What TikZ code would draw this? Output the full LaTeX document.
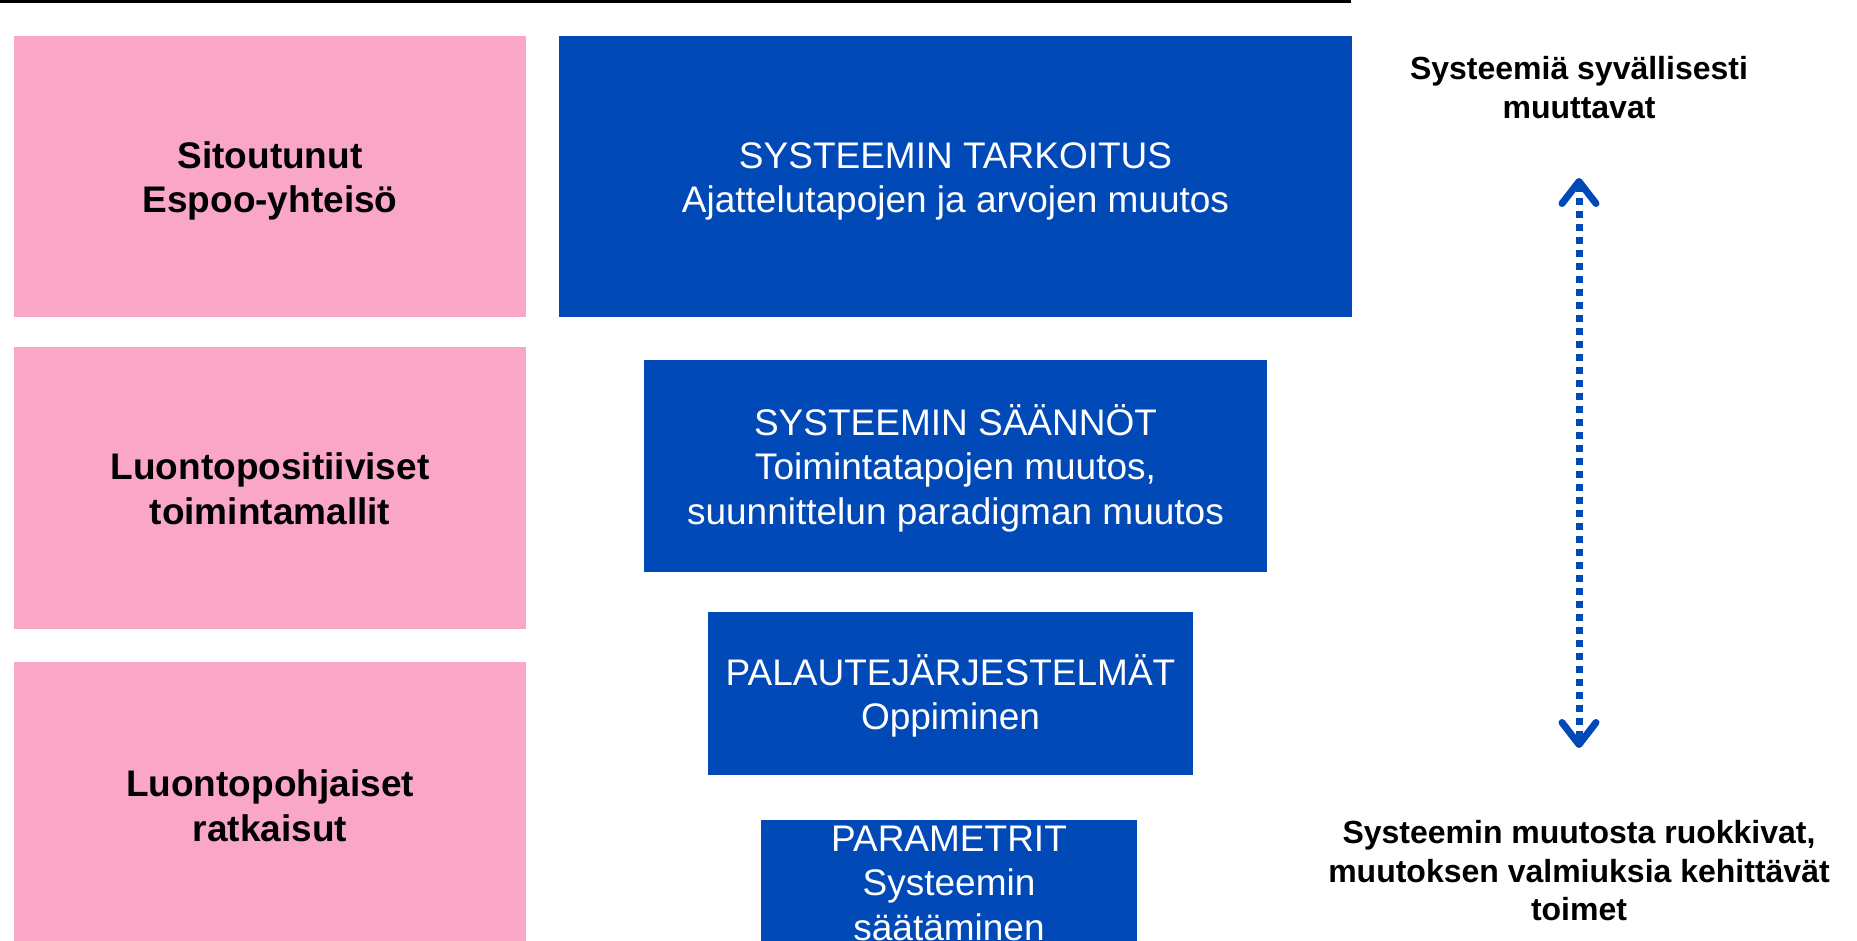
\documentclass[tikz,border=0pt]{standalone}
\usepackage{fontspec}
\setmainfont{Liberation Sans}
\usetikzlibrary{arrows.meta}
\definecolor{espblue}{RGB}{0,73,183}
\definecolor{esppink}{RGB}{250,166,199}
\newcommand{\ls}{\rule{0pt}{41pt}}

\begin{document}
\begin{tikzpicture}[x=1pt,y=-1pt,
   pinkbox/.style={fill=esppink,inner xsep=0pt,inner ysep=-20pt,align=center,
     font=\fontsize{37}{44.5}\selectfont\bfseries},
   bluebox/.style={fill=espblue,text=white,inner xsep=0pt,inner ysep=-20pt,
     align=center,font=\fontsize{37}{44.5}\selectfont},
   sidetext/.style={inner sep=0pt,align=center,
     font=\fontsize{32}{38.5}\selectfont\bfseries}]
   \useasboundingbox (0,0) rectangle (1857,941);
   \def\pw{512} \def\px{270}
   \draw[line width=2.5] (0,1.5) -- (1351,1.5);
   % left column
   \node[pinkbox,minimum width=\pw,minimum height=281] (commun) at (\px,176.5)
     {\ls Sitoutunut\\Espoo-yhteisö\strut};
   \node[pinkbox,minimum width=\pw,minimum height=282] (models) at (\px,488)
     {\ls Luontopositiiviset\\toimintamallit\strut};
   \node[pinkbox,minimum width=\pw,minimum height=286] (nbs) at (\px,805)
     {\ls Luontopohjaiset\\ratkaisut\strut};
   % leverage levels
   \node[bluebox,minimum width=793,minimum height=281] (purpose) at (955.5,176.5)
     {\ls SYSTEEMIN TARKOITUS\\Ajattelutapojen ja arvojen muutos\strut};
   \node[bluebox,minimum width=623,minimum height=212] (rules) at (955.5,466)
     {\ls SYSTEEMIN SÄÄNNÖT\\Toimintatapojen muutos,\\suunnittelun paradigman muutos\strut};
   \node[bluebox,minimum width=485,minimum height=163] (feedback) at (950.5,693.5)
     {\ls PALAUTEJÄRJESTELMÄT\\Oppiminen\strut};
   \node[bluebox,minimum width=376,minimum height=124] (params) at (949,882)
     {\ls PARAMETRIT\\Systeemin\\säätäminen\strut};
   % right column
   \node[sidetext] (deep) at (1579,87.5) {Systeemiä syvällisesti\\muuttavat};
   \node[sidetext] (feed) at (1579,871)
     {Systeemin muutosta ruokkivat,\\muutoksen valmiuksia kehittävät\\toimet};
   \coordinate (up) at (1579,178);
   \coordinate (dn) at (1579,748);
   \draw[espblue,line width=7,dash pattern=on 7 off 6,
     {Straight Barb[round,length=22,width=34]}-{Straight Barb[round,length=22,width=34]}]
     (up) -- (dn);
\end{tikzpicture}
\end{document}
